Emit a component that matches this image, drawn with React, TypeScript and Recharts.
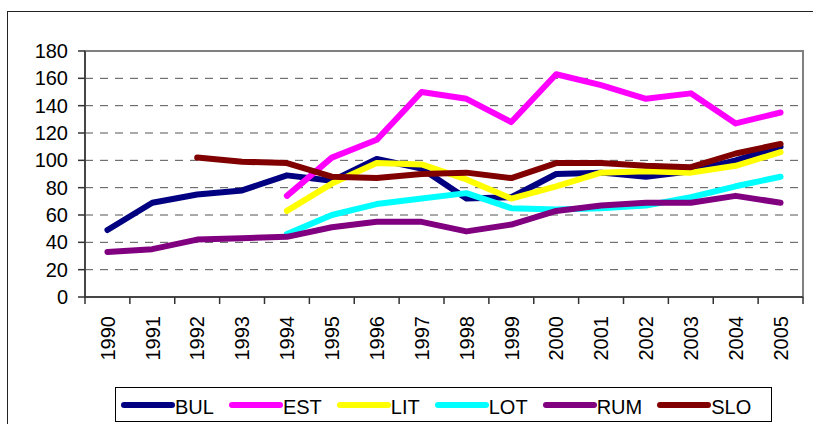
import { CartesianGrid, Legend, Line, LineChart, ReferenceArea, XAxis, YAxis } from "recharts";

const YEARS = [
  "1990", "1991", "1992", "1993", "1994", "1995", "1996", "1997",
  "1998", "1999", "2000", "2001", "2002", "2003", "2004", "2005",
];

const BUL = [49, 69, 75, 78, 89, 85, 101, 94, 72, 73, 90, 91, 88, 92, 100, 110];
const EST = [null, null, null, null, 74, 102, 115, 150, 145, 128, 163, 155, 145, 149, 127, 135];
const LIT = [null, null, null, null, 63, 83, 98, 97, 86, 72, 81, 91, 92, 91, 96, 106];
const LOT = [null, null, null, null, 46, 60, 68, 72, 76, 65, 64, 65, 67, 73, 81, 88];
const RUM = [33, 35, 42, 43, 44, 51, 55, 55, 48, 53, 63, 67, 69, 69, 74, 69];
const SLO = [null, null, 102, 99, 98, 88, 87, 90, 91, 87, 98, 98, 96, 95, 105, 112];

const Y_TICKS = [0, 20, 40, 60, 80, 100, 120, 140, 160, 180];

const SERIES = [
  { key: "BUL", values: BUL, color: "#000080" },
  { key: "EST", values: EST, color: "#FF00FF" },
  { key: "LIT", values: LIT, color: "#FFFF00" },
  { key: "LOT", values: LOT, color: "#00FFFF" },
  { key: "RUM", values: RUM, color: "#800080" },
  { key: "SLO", values: SLO, color: "#800000" },
];

const data = YEARS.map((year, i) => {
  const row: Record<string, string | number | null> = { year };
  for (const s of SERIES) row[s.key] = s.values[i];
  return row;
});

const FONT = "Arial, 'Liberation Sans', sans-serif";
const AXIS = "#333";

// category label rotated, tick mark drawn at the band boundary (Excel style)
function YearTick(props: any) {
  const { x, y, payload, index, visibleTicksCount } = props;
  const half = payload?.offset || 22.44;
  const last = index === visibleTicksCount - 1;
  return (
    <g>
      <line x1={x - half} x2={x - half} y1={y} y2={y + 7} stroke={AXIS} strokeWidth={1.5} />
      {last && <line x1={x + half} x2={x + half} y1={y} y2={y + 7} stroke={AXIS} strokeWidth={1.5} />}
      <text
        x={x}
        y={y + 19}
        dy="0.36em"
        textAnchor="end"
        transform={`rotate(-90, ${x}, ${y + 19})`}
        fontSize={20}
        fontFamily={FONT}
        fill="#000"
      >
        {payload.value}
      </text>
    </g>
  );
}

function LegendBox() {
  return (
    <div
      style={{
        boxSizing: "border-box",
        width: 657,
        height: 35,
        border: "1px solid #000",
        background: "#fff",
        display: "flex",
        alignItems: "center",
        paddingLeft: 5,
        gap: 15,
        fontFamily: FONT,
        fontSize: 20,
        color: "#000",
      }}
    >
      {SERIES.map((s) => (
        <span key={s.key} style={{ display: "flex", alignItems: "center" }}>
          <svg width={54} height={10} style={{ display: "block" }}>
            <line x1={3} x2={51} y1={5} y2={5} stroke={s.color} strokeWidth={6} strokeLinecap="round" />
          </svg>
          <span style={{ lineHeight: "20px", marginTop: 4 }}>{s.key}</span>
        </span>
      ))}
    </div>
  );
}

export default function App() {
  return (
    <div style={{ position: "fixed", left: 0, top: 0, width: 813, height: 424, overflow: "hidden", background: "#fff" }}>
      <div
        style={{
          position: "absolute",
          left: 7,
          top: 11,
          width: 900,
          height: 500,
          borderLeft: "1.5px solid #222",
          borderTop: "1.5px solid #222",
        }}
      />
      <div style={{ position: "absolute", left: 0, top: 0 }}>
        <LineChart width={813} height={424} data={data} margin={{ top: 51, right: 10, bottom: 0, left: 0 }}>
          <ReferenceArea y1={0} y2={180} fill="none" stroke="#808080" strokeWidth={2} ifOverflow="visible" />
          <CartesianGrid vertical={false} stroke="#555" strokeDasharray="8 7" />
          <XAxis
            dataKey="year"
            scale="band"
            height={127}
            interval={0}
            tickSize={0}
            tickMargin={0}
            tickLine={false}
            tick={<YearTick />}
            axisLine={{ stroke: AXIS, strokeWidth: 1.5 }}
          />
          <YAxis
            width={85}
            domain={[0, 180]}
            ticks={Y_TICKS}
            interval={0}
            tickSize={7}
            tickMargin={10}
            tickLine={{ stroke: AXIS, strokeWidth: 1.5 }}
            axisLine={{ stroke: AXIS, strokeWidth: 1.5 }}
            tick={{ fill: "#000", fontSize: 20, fontFamily: FONT }}
          />
          {SERIES.map((s) => (
            <Line
              key={s.key}
              dataKey={s.key}
              stroke={s.color}
              strokeWidth={6}
              strokeLinecap="round"
              strokeLinejoin="round"
              dot={false}
              activeDot={false}
              isAnimationActive={false}
            />
          ))}
          <Legend
            layout="vertical"
            align="center"
            verticalAlign="middle"
            content={<LegendBox />}
            wrapperStyle={{ left: 115, top: 387, width: 657, height: 35 }}
          />
        </LineChart>
      </div>
    </div>
  );
}
